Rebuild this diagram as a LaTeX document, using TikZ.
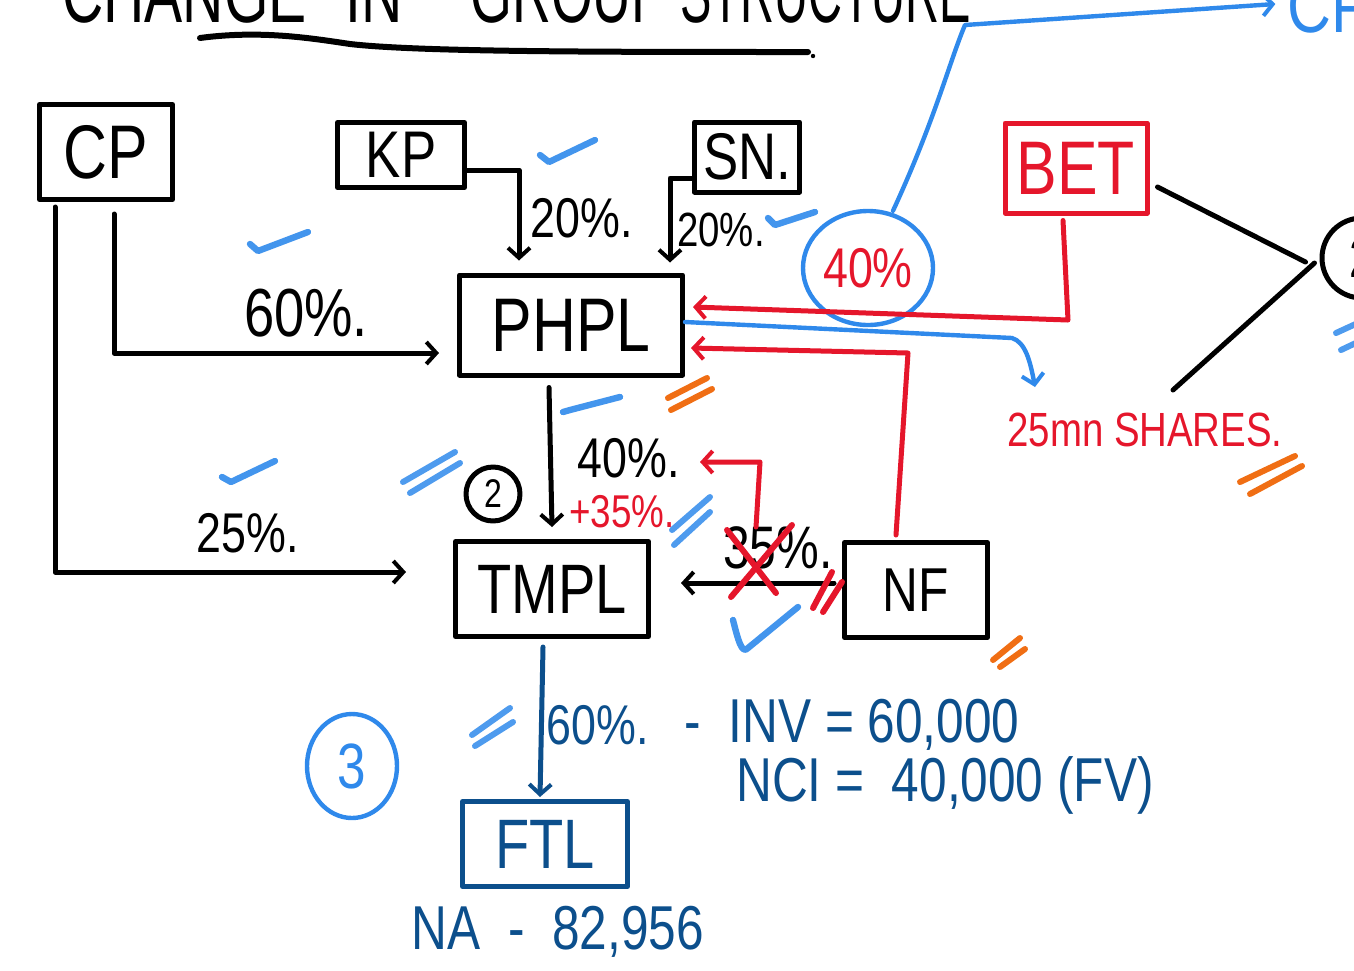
\documentclass[tikz,border=0pt]{standalone}
\usepackage{fontspec}
\newfontfamily\hand[FakeStretch=0.8]{Liberation Sans}
\usetikzlibrary{arrows.meta,calc,shapes.geometric}
\definecolor{hred}{RGB}{229,22,43}
\definecolor{hblue}{RGB}{47,137,235}
\definecolor{hdblue}{RGB}{12,79,140}
\definecolor{horange}{RGB}{240,110,20}
\newcommand\fs[1]{\hand\fontsize{#1}{#1}\selectfont}
\begin{document}
\begin{tikzpicture}[x=0.5pt,y=-0.5pt,line cap=round,line join=round,
  box/.style={draw,line width=2.5pt,inner sep=0pt,rectangle},
  lbl/.style={inner sep=0pt},
  con/.style={line width=2.5pt},
  bline/.style={hblue,line width=2.2pt},
  tip/.style={-{Straight Barb[length=5pt,width=11pt,line width=2pt]}},
  chk/.style={hblue,line width=3.2pt,opacity=0.9},
  dbl/.style={line width=3pt}]
\useasboundingbox (0,0) rectangle (1354,970);
\clip (0,0) rectangle (1354,970);

% title (partly cut off at the top)
\node[lbl,anchor=base west] (t1) at (62,22) {\scalebox{0.85}[1]{\fs{42}CHANGE}};
\node[lbl,anchor=base west] (t2) at (345,22) {\scalebox{0.85}[1]{\fs{42}IN}};
\node[lbl,anchor=base west] (t3) at (470,22) {\scalebox{0.8}[1]{\fs{42}GROUP}};
\node[lbl,anchor=base west] (t4) at (680,22) {\scalebox{0.7}[1]{\fs{42}STRUCTURE}};
\draw[con,line width=3pt] (200,38) .. controls (260,30) and (310,38) .. (350,44) .. controls (420,52) and (600,52) .. (808,52);
\fill (813,56) circle (2.2);

% boxes
\node[box,minimum width=66.5pt,minimum height=47.5pt] (CP) at (106,152) {\fs{38}CP};
\node[box,minimum width=63.5pt,minimum height=32.5pt] (KP) at (401,155) {\fs{33}KP};
\node[box,minimum width=52.5pt,minimum height=35pt] (SN) at (747,157) {\fs{33}SN.};
\node[box,draw=hred,text=hred,minimum width=71pt,minimum height=45pt] (BET) at (1076,168) {\fs{38}BET};
\node[box,minimum width=111.5pt,minimum height=50pt] (PHPL) at (571,325) {\fs{38}PHPL};
\node[box,minimum width=96.5pt,minimum height=47.5pt] (TMPL) at (552,589) {\fs{35}TMPL};
\node[box,minimum width=71.5pt,minimum height=47.5pt] (NF) at (916,590) {\fs{31}NF};
\node[box,draw=hdblue,text=hdblue,minimum width=82.5pt,minimum height=42.5pt] (FTL) at (545,844) {\fs{35}FTL};

% circles
\node[ellipse,draw=hblue,line width=2.2pt,text=hred,minimum width=65pt,minimum height=57pt,inner sep=0pt] (c40) at (868,268) {\fs{28}40\%};
\node[circle,draw,line width=2.5pt,minimum size=27pt,inner sep=0pt] (two) at (493,494) {\fs{20}2};
\node[ellipse,draw=hblue,line width=2.2pt,text=hblue,minimum width=45pt,minimum height=52pt,inner sep=0pt] (three) at (352,766) {\fs{32}3};
\node[circle,draw,line width=2.5pt,minimum size=40pt,inner sep=0pt] (R2) at (1362,258) {\fs{28}2};
\node[lbl,text=hblue] (CPb) at (1330,6) {\fs{38}CP};

% percentage labels
\node[lbl] (l1) at (582,218) {\fs{28}20\%.};
\node[lbl] (l2) at (721,230) {\fs{24}20\%.};
\node[lbl] (l3) at (306,313) {\fs{34}60\%.};
\node[lbl] (l4) at (629,458) {\fs{28}40\%.};
\node[lbl,text=hred] (l5) at (622,512) {\fs{23}+35\%.};
\node[lbl] (l6) at (248,533) {\fs{28}25\%.};
\node[lbl] (l7) at (778,548) {\fs{30}35\%.};
\node[lbl,text=hred] (sh) at (1145,430) {\fs{24}25mn SHARES.};
\node[lbl,text=hdblue] (n1) at (598,725) {\fs{28}60\%.};
\node[lbl,text=hdblue] (n2) at (852,725) {\fs{31}-\ \ INV = 60,000};
\node[lbl,text=hdblue] (n3) at (945,785) {\fs{31}NCI = \ 40,000 (FV)};
\node[lbl,text=hdblue] (n4) at (558,932) {\fs{31}NA \ - \ 82,956};

% black connectors
\draw[con,tip] ($(KP.east)+(0,15)$) -| ($(PHPL.north west)+(62,-12)$);
\draw[con,tip] ($(SN.west)+(0,21)$) -| ($(PHPL.north east)+(-15,-10)$);
\draw[con,tip] ($(CP.south)+(8,12)$) |- ($(PHPL.west)+(-18,28)$);
\draw[con,tip] ($(CP.south west)+(18,5)$) |- ($(TMPL.west)+(-47,-17)$);
\draw[con,tip] ($(PHPL.south)+(-22,10)$) -- ($(TMPL.north)+(0,-12)$);
\draw[con,tip] ($(NF.west)+(-8,-7)$) -- ($(TMPL.east)+(30,-6)$);
\coordinate (xb) at (1173,390);
\draw[con] ($(BET.east)+(8,19)$) -- ($(R2.west)+(-14,4)$);
\draw[con] (xb) -- ($(R2.west)+(-5,5)$);

% red connectors
\draw[con,hred,tip] ($(BET.south)+(-13,5)$) -- (1068,320) -- ($(PHPL.east)+(8,-18)$);
\draw[con,hred,tip] ($(NF.north)+(-20,-5)$) -- (908,353) -- ($(PHPL.east)+(6,23)$);
\coordinate (rs) at (756,527);
\coordinate (re) at (700,462);
\draw[con,hred,tip] (rs) -- (760,462) -- (re);
% red cross and marks
\draw[con,hred,line width=3pt] (727,530) -- (776,593);
\draw[con,hred,line width=3pt] (792,525) -- (731,597);
\draw[hred,dbl] (813,608) -- (832,572);
\draw[hred,dbl] (823,612) -- (842,582);

% dark blue connector
\draw[con,hdblue,tip] ($(TMPL.south)+(-9,8)$) -- ($(FTL.north)+(-5,-2)$);

% light blue connectors
\coordinate (sh0) at (1035,387);
\draw[bline,tip] ($(PHPL.east)+(0,-3)$) -- (1012,338) .. controls (1025,342) and (1030,360) .. (sh0);
\draw[bline,tip] ($(c40.north)+(25,2)$) .. controls (935,120) and (950,60) .. (965,25) -- ($(CPb.west)+(-12,-2)$);

% check marks
\draw[chk] (540,155) -- (549,162) -- (595,140);
\draw[chk] (250,244) -- (258,251) -- (308,232);
\draw[chk] (563,412) -- (570,410) -- (620,397);
\draw[chk] (222,477) -- (231,482) -- (275,461);
\draw[chk] (768,218) -- (775,225) -- (815,212);
\draw[chk] (733,620) .. controls (738,640) and (742,655) .. (748,648) -- (798,607);

% blue double strokes
\draw[hblue,dbl,opacity=0.85] (403,482) -- (455,452);
\draw[hblue,dbl,opacity=0.85] (410,493) -- (460,463);
\draw[hblue,dbl,opacity=0.85] (672,530) -- (710,497);
\draw[hblue,dbl,opacity=0.85] (674,545) -- (710,512);
\draw[hblue,dbl,opacity=0.85] (472,735) -- (510,708);
\draw[hblue,dbl,opacity=0.85] (475,746) -- (513,722);
\draw[hblue,dbl,opacity=0.85] (1336,333) -- (1360,322);
\draw[hblue,dbl,opacity=0.85] (1341,350) -- (1360,341);

% orange double strokes
\draw[horange,dbl] (668,398) -- (707,378);
\draw[horange,dbl] (671,410) -- (712,389);
\draw[horange,dbl] (1240,482) -- (1295,456);
\draw[horange,dbl] (1250,494) -- (1302,466);
\draw[horange,dbl] (993,660) -- (1020,638);
\draw[horange,dbl] (1000,667) -- (1025,649);
\end{tikzpicture}
\end{document}
